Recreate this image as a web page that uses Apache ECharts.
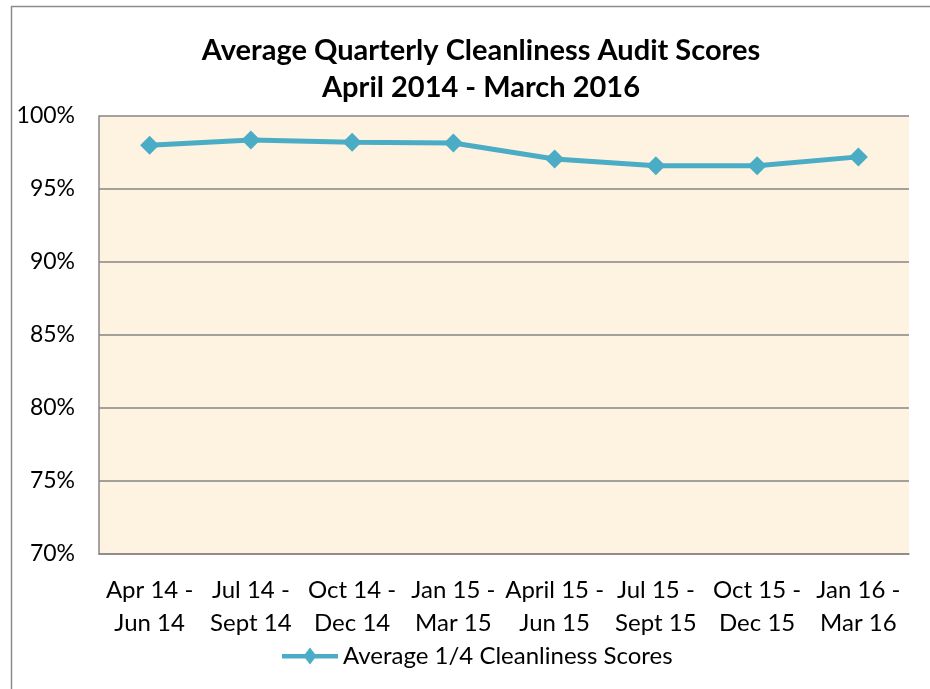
<!DOCTYPE html>
<html>
<head>
<meta charset="utf-8">
<style>html,body{margin:0;padding:0;background:#fff;}#chart{width:930px;height:689px;}</style>
<script src="https://cdn.jsdelivr.net/npm/echarts@6/dist/echarts.min.js"></script>
</head>
<body>
<div id="chart"></div>
<script>
const titleLines = ['Average Quarterly Cleanliness Audit Scores', 'April 2014 - March 2016'];
const categories = ['Apr 14 - Jun 14', 'Jul 14 - Sept 14', 'Oct 14 - Dec 14', 'Jan 15 - Mar 15',
                    'April 15 - Jun 15', 'Jul 15 - Sept 15', 'Oct 15 - Dec 15', 'Jan 16 - Mar 16'];
const seriesName = 'Average 1/4 Cleanliness Scores';
const scores = [98.0, 98.35, 98.2, 98.15, 97.05, 96.6, 96.6, 97.2];
const yMin = 70, yMax = 100, yStep = 5;

const FONT = 'Lato';
const chart = echarts.init(document.getElementById('chart'), null, {renderer: 'canvas'});
chart.setOption({
  backgroundColor: '#ffffff',
  animation: false,
  title: {
    text: titleLines.join('\n'),
    left: 476, top: 27, textAlign: 'center',
    textStyle: {fontFamily: FONT, fontWeight: 'bold', fontSize: 29, lineHeight: 37, color: '#000'}
  },
  graphic: [{
    type: 'rect', left: 9, top: 4, silent: true,
    shape: {width: 1000, height: 1000},
    style: {fill: 'none', stroke: '#8c8c8c', lineWidth: 1.5}
  }],
  grid: {left: 99, right: 21, top: 116, bottom: 135, show: true,
         backgroundColor: '#FEF2E0', borderWidth: 0, containLabel: false},
  legend: {
    data: [seriesName], left: 282, top: 644, padding: 0,
    icon: 'path://M0,6.5 H56 V11 H0 Z M28,0 L34.5,8.5 L28,17 L21.5,8.5 Z',
    itemWidth: 56, itemHeight: 17, itemGap: 2,
    itemStyle: {color: '#4BACC6'},
    textStyle: {fontFamily: FONT, fontSize: 24, color: '#000'}
  },
  xAxis: {
    type: 'category', data: categories, boundaryGap: true,
    axisLine: {show: true, lineStyle: {color: '#868686', width: 1.5}},
    axisTick: {show: false},
    axisLabel: {fontFamily: FONT, fontSize: 24, color: '#000', lineHeight: 33, margin: 20, interval: 0,
                formatter: v => v.replace(' - ', ' -\n')}
  },
  yAxis: {
    type: 'value', min: yMin, max: yMax, interval: yStep,
    axisLine: {show: true, lineStyle: {color: '#868686', width: 1.5}},
    axisTick: {show: false},
    splitLine: {show: true, lineStyle: {color: '#868686', width: 1.5}},
    axisLabel: {fontFamily: FONT, fontSize: 23, color: '#000', margin: 24, formatter: '{value}%'}
  },
  series: [{
    name: seriesName, type: 'line', data: scores,
    symbol: 'diamond', symbolSize: 19,
    lineStyle: {color: '#4BACC6', width: 5},
    itemStyle: {color: '#4BACC6'}
  }]
});
</script>
</body>
</html>
